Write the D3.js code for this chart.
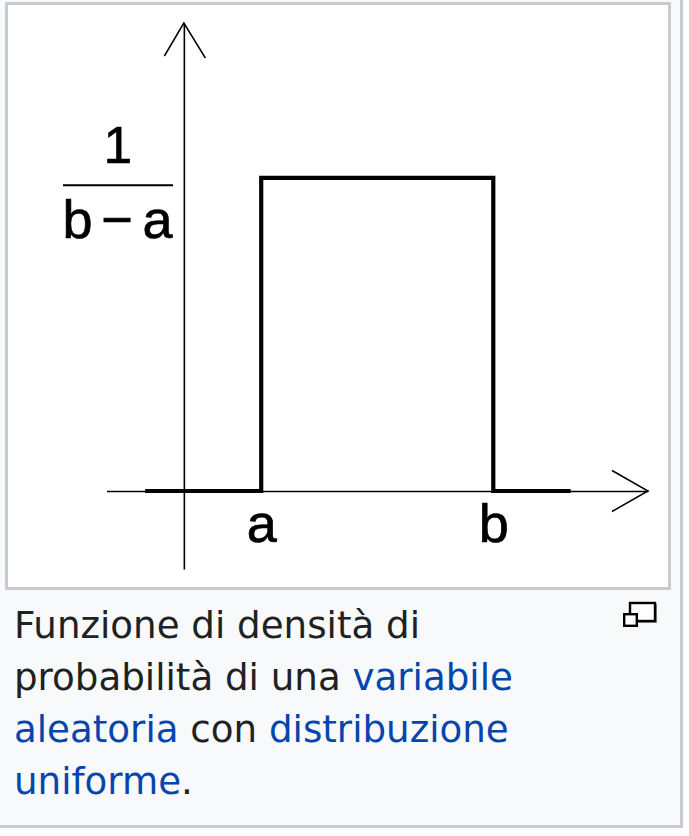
<!DOCTYPE html>
<html>
<head>
<meta charset="utf-8">
<script src="https://cdn.jsdelivr.net/npm/d3@7"></script>
<style>
  html, body { margin: 0; padding: 0; background: #ffffff; }
  svg { display: block; }
</style>
</head>
<body>
<div id="chart"></div>
<script>
// ---- data ----
const xDomain = [-1, 6];            // horizontal axis extent (axis units)
const yDomain = [-0.083, 0.498];    // vertical axis extent (density units)
const tickValuesX = [1, 4];         // a, b
const tickLabelsX = ["a", "b"];
const densityX = [-0.5, 1, 1, 4, 4, 5];
const densityY = [0, 0, 0.3333, 0.3333, 0, 0];
const tickValueY = 0.3333;          // 1/(b-a)
const fracNumerator = "1";
const fracDenominator = ["b", "\u2212", "a"];
const captionLines = [
  [{t: "Funzione di densità di", link: false}],
  [{t: "probabilità di una ", link: false}, {t: "variabile", link: true}],
  [{t: "aleatoria", link: true}, {t: " con ", link: false}, {t: "distribuzione", link: true}],
  [{t: "uniforme", link: true}, {t: ".", link: false}]
];

// ---- layout ----
const W = 689, H = 836;
const svg = d3.select("#chart").append("svg").attr("width", W).attr("height", H);

// outer thumb box
svg.append("rect").attr("x", 0).attr("y", 0).attr("width", 680).attr("height", 825).attr("fill", "#f8f9fa");
svg.append("rect").attr("x", 680).attr("y", 0).attr("width", 3).attr("height", 828).attr("fill", "#c8ccd1");
svg.append("rect").attr("x", 0).attr("y", 825).attr("width", 683).attr("height", 3).attr("fill", "#c8ccd1");
// image frame
svg.append("rect").attr("x", 6.5).attr("y", 3.5).attr("width", 663).attr("height", 585)
  .attr("fill", "#ffffff").attr("stroke", "#c8ccd1").attr("stroke-width", 3);

// scales
const x = d3.scaleLinear().domain(xDomain).range([106.5, 648]);
const y = d3.scaleLinear().domain(yDomain).range([569, 23]);

const g = svg.append("g");
const fontChart = "'Liberation Sans', Arial, sans-serif";

// x axis
const xAxis = d3.axisBottom(x)
  .tickValues(tickValuesX)
  .tickFormat((d, i) => tickLabelsX[i])
  .tickSize(0)
  .tickSizeOuter(0);
const gx = g.append("g").attr("transform", `translate(0,${y(0)})`).call(xAxis);
gx.select(".domain").attr("stroke", "#000").attr("stroke-width", 1.6);
gx.selectAll("text")
  .attr("dy", null).attr("y", 51)
  .attr("font-family", fontChart).attr("font-size", 54).attr("fill", "#000")
  .attr("stroke", "#000").attr("stroke-width", 0.7);

// y axis
const yAxis = d3.axisLeft(y).tickValues([]).tickSize(0).tickSizeOuter(0);
const gy = g.append("g").attr("transform", `translate(${x(0)},0)`).call(yAxis);
gy.select(".domain").attr("stroke", "#000").attr("stroke-width", 1.6);

// arrowheads (open chevrons)
const line = d3.line();
const xr = x.range()[1], yAx = y(0);
g.append("path").attr("d", line([[xr - 36, yAx - 20.5], [xr, yAx], [xr - 36, yAx + 20.5]]))
  .attr("fill", "none").attr("stroke", "#000").attr("stroke-width", 1.5);
const yt = y.range()[1], xAx = x(0);
g.append("path").attr("d", line([[xAx - 19.5, yt + 33], [xAx, yt], [xAx + 21.5, yt + 35]]))
  .attr("fill", "none").attr("stroke", "#000").attr("stroke-width", 1.5);

// density
g.append("path")
  .attr("d", line(densityX.map((d, i) => [x(d), y(densityY[i])])))
  .attr("fill", "none").attr("stroke", "#000").attr("stroke-width", 4.2)
  .attr("stroke-linejoin", "miter").attr("stroke-linecap", "butt");

// y tick label: fraction 1/(b-a)
const ty = y(tickValueY);
const fx = 118;
g.append("text").attr("x", fx).attr("y", ty - 15).attr("text-anchor", "middle")
  .attr("font-family", fontChart).attr("font-size", 51).attr("fill", "#000")
  .attr("stroke", "#000").attr("stroke-width", 0.7)
  .text(fracNumerator);
g.append("line").attr("x1", 63).attr("x2", 173).attr("y1", ty + 7.5).attr("y2", ty + 7.5)
  .attr("stroke", "#000").attr("stroke-width", 2);
const denomX = [77.5, 117, 157.5];
g.selectAll("text.den").data(fracDenominator).join("text").attr("class", "den")
  .attr("x", (d, i) => denomX[i]).attr("y", ty + 60).attr("text-anchor", "middle")
  .attr("font-family", fontChart).attr("font-size", 54).attr("fill", "#000")
  .attr("stroke", "#000").attr("stroke-width", 0.7)
  .text(d => d);

// enlarge icon
svg.append("rect").attr("x", 631).attr("y", 604).attr("width", 26).attr("height", 19).attr("fill", "#8a8a8a");
svg.append("rect").attr("x", 630).attr("y", 603).attr("width", 25).attr("height", 18)
  .attr("fill", "#ffffff").attr("stroke", "#000").attr("stroke-width", 2.4);
svg.append("rect").attr("x", 624.2).attr("y", 614.2).attr("width", 12.6).attr("height", 11.6)
  .attr("fill", "#ffffff").attr("stroke", "#000").attr("stroke-width", 2.4);

// caption
const cap = svg.append("text")
  .attr("font-family", "'DejaVu Sans', sans-serif").attr("font-size", 37.2).attr("fill", "#202122");
captionLines.forEach((ln, li) => {
  ln.forEach((seg, si) => {
    const ts = cap.append("tspan").text(seg.t).attr("fill", seg.link ? "#0645ad" : "#202122");
    if (si === 0) ts.attr("x", 14).attr("y", 638 + li * 52);
  });
});
</script>
</body>
</html>
